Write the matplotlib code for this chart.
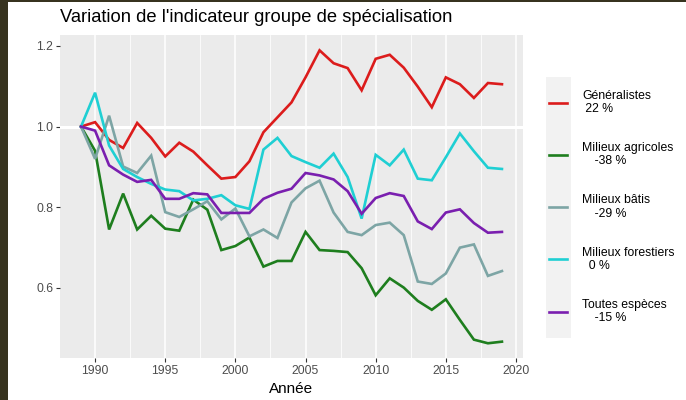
import matplotlib
matplotlib.use("Agg")
import matplotlib.pyplot as plt
from matplotlib.patches import Rectangle
from matplotlib.ticker import FixedLocator

plt.rcParams['font.family'] = ['Liberation Sans', 'DejaVu Sans']

years = list(range(1989, 2020))

generalistes = [1.0, 1.011, 0.967, 0.947, 1.009, 0.972, 0.926, 0.960, 0.938, 0.904,
                0.871, 0.875, 0.914, 0.986, 1.023, 1.060, 1.122, 1.189, 1.157, 1.145,
                1.090, 1.168, 1.178, 1.146, 1.099, 1.048, 1.122, 1.105, 1.071, 1.108, 1.105]
agricoles = [1.0, 0.940, 0.745, 0.834, 0.745, 0.779, 0.747, 0.742, 0.819, 0.794,
             0.694, 0.704, 0.725, 0.653, 0.667, 0.667, 0.739, 0.694, 0.692, 0.689,
             0.649, 0.582, 0.624, 0.601, 0.568, 0.546, 0.572, 0.521, 0.472, 0.463, 0.467]
batis = [1.0, 0.920, 1.027, 0.901, 0.885, 0.928, 0.788, 0.776, 0.795, 0.815,
         0.770, 0.797, 0.728, 0.745, 0.724, 0.812, 0.847, 0.866, 0.787, 0.739,
         0.731, 0.756, 0.762, 0.731, 0.616, 0.610, 0.636, 0.700, 0.708, 0.630, 0.642]
forestiers = [1.0, 1.084, 0.953, 0.895, 0.875, 0.858, 0.844, 0.840, 0.817, 0.821,
              0.830, 0.805, 0.796, 0.943, 0.972, 0.927, 0.912, 0.898, 0.933, 0.875,
              0.772, 0.930, 0.904, 0.943, 0.871, 0.867, 0.924, 0.983, 0.939, 0.898, 0.895]
toutes = [1.0, 0.990, 0.904, 0.881, 0.863, 0.868, 0.821, 0.821, 0.835, 0.832,
          0.786, 0.786, 0.786, 0.821, 0.836, 0.846, 0.885, 0.879, 0.869, 0.840,
          0.784, 0.823, 0.835, 0.828, 0.765, 0.746, 0.787, 0.795, 0.761, 0.737, 0.739]

series_names = ["Généralistes", "Milieux agricoles", "Milieux bâtis",
                "Milieux forestiers", "Toutes espèces"]
series_pct = ["22 %", "-38 %", "-29 %", "0 %", "-15 %"]
pct_indent = [" ", "   \u2009", "   \u2009", "  ", "   \u2009"]
series_values = [generalistes, agricoles, batis, forestiers, toutes]
series_colors = ["#DC1C1C", "#1E7E1E", "#7DA5A5", "#1FCFD3", "#7A1FAF"]

x_ticks = [1990, 1995, 2000, 2005, 2010, 2015, 2020]
y_ticks = [0.6, 0.8, 1.0, 1.2]

W, H = 686, 400
fig = plt.figure(figsize=(W / 100, H / 100), dpi=100)
L, R, T, B = 60, 523, 35, 358
ax = fig.add_axes([L / W, 1 - B / H, (R - L) / W, (B - T) / H])
ax.set_facecolor("#EBEBEB")
for s in ax.spines.values():
    s.set_visible(False)

ax.set_xlim(1987.5, 2020.5)
ax.set_ylim(0.4265, 1.227)

ax.xaxis.set_major_locator(FixedLocator(x_ticks))
ax.xaxis.set_minor_locator(FixedLocator([1992.5, 1997.5, 2002.5, 2007.5, 2012.5, 2017.5]))
ax.yaxis.set_major_locator(FixedLocator(y_ticks))
ax.grid(True, axis='x', which='major', color='white', lw=1.1)
ax.grid(True, axis='x', which='minor', color='white', lw=0.55)
ax.tick_params(axis='x', which='minor', length=0)
ax.tick_params(axis='both', which='major', length=2.7, width=0.8, color='#333333',
               labelcolor='#4D4D4D', labelsize=8.8, pad=2.2)
ax.set_yticklabels([f"{v:.1f}" for v in y_ticks])
ax.set_axisbelow(True)
ax.axhline(1.0, color='white', lw=2.2, zorder=1)

handles = []
for name, pct, ind, vals, col in zip(series_names, series_pct, pct_indent, series_values, series_colors):
    h, = ax.plot(years, vals, color=col, lw=1.9, solid_joinstyle='miter', zorder=3,
                 label=f"{name}\n{ind}{pct}")
    handles.append(h)

ax.set_xlabel("Année", fontsize=11, color='black', labelpad=4)

fig.text(L / W, 1 - 18 / H, "Variation de l'indicateur groupe de spécialisation",
         fontsize=13.2, ha='left', va='center', color='black')

# legend key background strip
fig.patches.append(Rectangle((546 / W, 1 - 338 / H), 25 / W, 261 / H,
                             transform=fig.transFigure, facecolor='#F2F2F2',
                             edgecolor='none', zorder=1))

leg = fig.legend(handles=handles, loc='center left', bbox_to_anchor=(549 / W, 1 - 207 / H),
                 frameon=False, fontsize=8.8, handlelength=1.5, handletextpad=1.2,
                 labelspacing=2.2, borderpad=0, borderaxespad=0)
for t in leg.get_texts():
    t.set_color('black')
    t.set_linespacing(1.15)

# dark border of the screenshot
fig.patches.append(Rectangle((0, 0), 8 / W, 1, transform=fig.transFigure,
                             facecolor='#37331F', edgecolor='none', zorder=10))
fig.patches.append(Rectangle((0, 1 - 2 / H), 1, 2 / H, transform=fig.transFigure,
                             facecolor='#37331F', edgecolor='none', zorder=10))

fig.savefig("out.png", dpi=100)
